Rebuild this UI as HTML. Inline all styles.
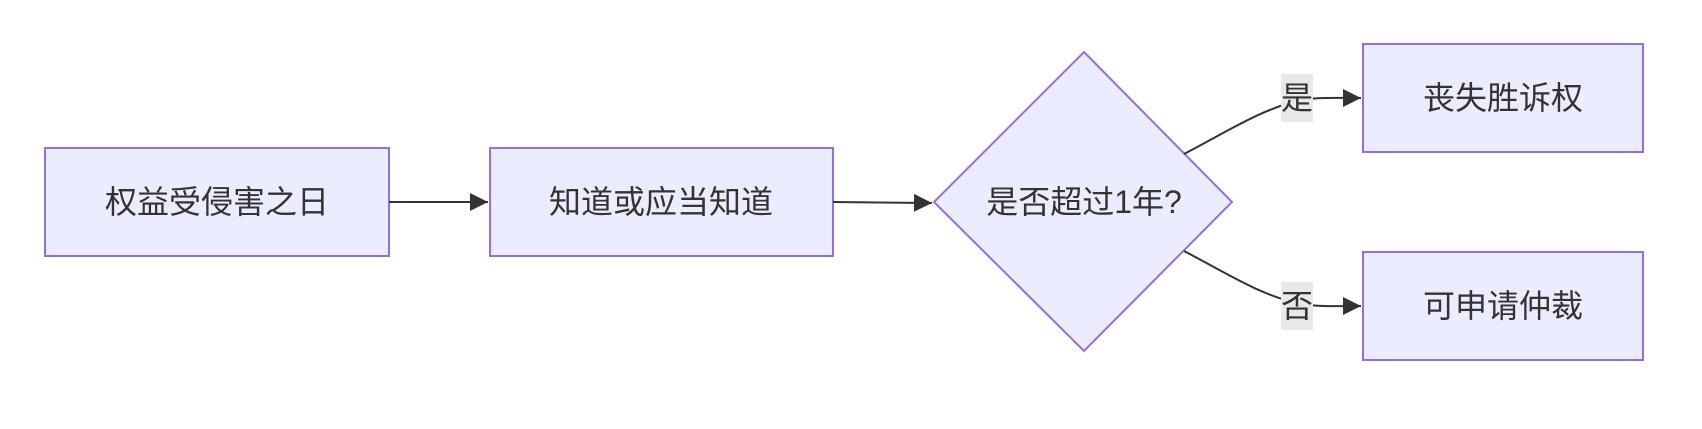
<!DOCTYPE html>
<html><head><meta charset="utf-8"><style>
html,body{margin:0;padding:0;background:#fff;}
svg text{font-family:"Liberation Sans","Noto Sans CJK SC",sans-serif;font-size:32px;fill:#333;}
</style></head><body>
<svg width="1702" height="424" viewBox="0 0 1702 424" xmlns="http://www.w3.org/2000/svg">
<defs><marker id="b" viewBox="0 0 10 10" refX="10" refY="5" markerWidth="18" markerHeight="18" markerUnits="userSpaceOnUse" orient="auto"><path d="M0,0L10,5L0,10z" fill="#333"/></marker></defs>
<g fill="#ECECFF" stroke="#9370DB" stroke-width="2">
<rect x="45" y="148" width="344" height="108"/>
<rect x="490" y="148" width="343" height="108"/>
<polygon points="1084,52 1232,202 1084,351 934,202"/>
<rect x="1363" y="44" width="280" height="108"/>
<rect x="1363" y="252" width="280" height="108"/>
</g>
<g fill="none" stroke="#333" stroke-width="2">
<path d="M389,202 L488,202" marker-end="url(#b)"/>
<path d="M833,202 L932,203" marker-end="url(#b)"/>
<path d="M1184,154 C1230,130 1260,110 1300,100 C1320,97 1340,98 1361,98" marker-end="url(#b)"/>
<path d="M1184,251 C1230,275 1260,295 1300,304 C1320,307 1340,306 1361,306" marker-end="url(#b)"/>
</g>
<rect x="1281" y="74" width="32" height="48" fill="#e8e8e8"/>
<rect x="1281" y="282" width="32" height="48" fill="#e8e8e8"/>
<g text-anchor="middle">
<text x="217" y="213">权益受侵害之日</text>
<text x="661" y="213">知道或应当知道</text>
<text x="1084" y="213">是否超过1年?</text>
<text x="1503" y="109">丧失胜诉权</text>
<text x="1503" y="317">可申请仲裁</text>
<text x="1297" y="109">是</text>
<text x="1297" y="317">否</text>
</g>
</svg>
</body></html>
